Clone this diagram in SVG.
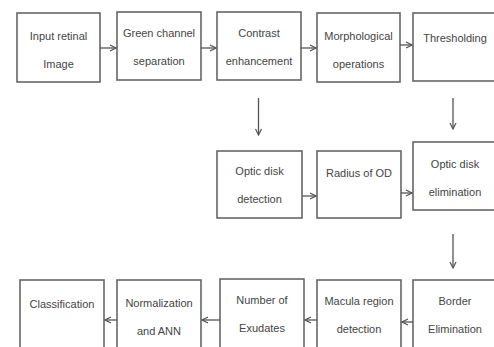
<svg xmlns="http://www.w3.org/2000/svg" width="494" height="347" viewBox="0 0 494 347">
<style>
.box{fill:#fff;stroke:#666;stroke-width:1.6}
.t{font-family:"Liberation Sans",Arial,sans-serif;font-size:11px;fill:#444;text-anchor:middle}
.c{stroke:#555;stroke-width:1.3;fill:none}
</style>
<defs>
<marker id="ah" viewBox="0 0 8 8" refX="7" refY="4" markerWidth="8" markerHeight="8" markerUnits="userSpaceOnUse" orient="auto">
<path d="M1,1 L7,4 L1,7" fill="none" stroke="#555" stroke-width="1.2"/>
</marker>
</defs>
<rect width="494" height="347" fill="#fff"/>
<g id="n1"><rect class="box" x="17" y="13" width="83" height="69"/><text class="t" x="58.5" y="40">Input retinal</text><text class="t" x="58.5" y="68">Image</text></g>
<g id="n2"><rect class="box" x="117" y="12" width="84" height="68"/><text class="t" x="159" y="37">Green channel</text><text class="t" x="159" y="65">separation</text></g>
<g id="n3"><rect class="box" x="217" y="12" width="84" height="68"/><text class="t" x="259" y="37">Contrast</text><text class="t" x="259" y="65">enhancement</text></g>
<g id="n4"><rect class="box" x="317" y="13" width="83" height="69"/><text class="t" x="358.5" y="40">Morphological</text><text class="t" x="358.5" y="68">operations</text></g>
<g id="n5"><rect class="box" x="413" y="13" width="84" height="68"/><text class="t" x="455" y="42">Thresholding</text></g>
<g id="n6"><rect class="box" x="217" y="151" width="85" height="67"/><text class="t" x="259.5" y="175">Optic disk</text><text class="t" x="259.5" y="203">detection</text></g>
<g id="n7"><rect class="box" x="317" y="151" width="84" height="67"/><text class="t" x="359" y="177">Radius of OD</text></g>
<g id="n8"><rect class="box" x="413" y="142" width="84" height="68"/><text class="t" x="455" y="168">Optic disk</text><text class="t" x="455" y="196">elimination</text></g>
<g id="n9"><rect class="box" x="413" y="280" width="84" height="70"/><text class="t" x="455" y="305">Border</text><text class="t" x="455" y="333">Elimination</text></g>
<g id="n10"><rect class="box" x="317" y="280" width="84" height="70"/><text class="t" x="359" y="305">Macula region</text><text class="t" x="359" y="333">detection</text></g>
<g id="n11"><rect class="box" x="220" y="279" width="84" height="71"/><text class="t" x="262" y="304">Number of</text><text class="t" x="262" y="332">Exudates</text></g>
<g id="n12"><rect class="box" x="117" y="280" width="84" height="70"/><text class="t" x="159" y="307">Normalization</text><text class="t" x="159" y="335">and ANN</text></g>
<g id="n13"><rect class="box" x="20" y="280" width="84" height="70"/><text class="t" x="62" y="308">Classification</text></g>
<g id="connectors">
<line class="c" x1="100" y1="48" x2="116" y2="48" marker-end="url(#ah)"/>
<line class="c" x1="201" y1="48" x2="216" y2="48" marker-end="url(#ah)"/>
<line class="c" x1="301" y1="48" x2="316" y2="48" marker-end="url(#ah)"/>
<line class="c" x1="400" y1="45" x2="412" y2="45" marker-end="url(#ah)"/>
<line class="c" x1="258.5" y1="98" x2="258.5" y2="135" marker-end="url(#ah)"/>
<line class="c" x1="453" y1="98" x2="453" y2="129" marker-end="url(#ah)"/>
<line class="c" x1="302" y1="196" x2="316" y2="196" marker-end="url(#ah)"/>
<line class="c" x1="401" y1="193" x2="412" y2="193" marker-end="url(#ah)"/>
<line class="c" x1="453" y1="234" x2="453" y2="268" marker-end="url(#ah)"/>
<line class="c" x1="413" y1="322" x2="402" y2="322" marker-end="url(#ah)"/>
<line class="c" x1="317" y1="320" x2="305" y2="320" marker-end="url(#ah)"/>
<line class="c" x1="220" y1="320" x2="202" y2="320" marker-end="url(#ah)"/>
<line class="c" x1="117" y1="320" x2="105" y2="320" marker-end="url(#ah)"/>
</g>
</svg>
